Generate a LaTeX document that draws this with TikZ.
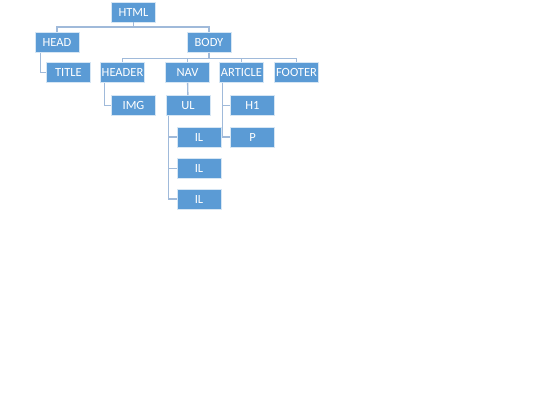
\documentclass[tikz,border=0pt]{standalone}
\usepackage{fontspec}
\setmainfont{Carlito}
\definecolor{boxblue}{RGB}{91,155,213}
\definecolor{linkblue}{RGB}{160,186,218}
\begin{document}
\begin{tikzpicture}[x=1pt,y=-1pt,
		box/.style={fill=boxblue,draw=white!75!boxblue,line width=0.6pt,
			minimum width=44pt,minimum height=20pt,inner sep=0pt,
			text=white,font=\fontsize{12.5}{13}\selectfont},
		link/.style={draw=linkblue,line width=1.4pt}]
		
		\useasboundingbox (0,0) rectangle (540,405);
		
		% top levels
		\node[box] (html)    at (133.5,12)   {HTML};
		\node[box] (head)    at (57,42.5)    {HEAD};
		\node[box] (body)    at (209,42.5)   {BODY};
		
		% third row
		\node[box] (title)   at (68.5,72.5)  {TITLE};
		\node[box] (header)  at (122.5,72.5) {HEADER};
		\node[box] (nav)     at (187.5,72.5) {NAV};
		\node[box] (article) at (241.5,72.5) {ARTICLE};
		\node[box] (footer)  at (296.5,72.5) {FOOTER};
		
		% lower rows
		\node[box] (img)     at (133.5,105.5) {IMG};
		\node[box] (ul)      at (188,105.5)   {UL};
		\node[box] (hone)    at (252.5,105.5) {H1};
		\node[box] (p)       at (252.5,137)   {P};
		\node[box] (ilone)   at (199,137)     {IL};
		\node[box] (iltwo)   at (199,168.5)   {IL};
		\node[box] (ilthree) at (199,199)     {IL};
		
		% connectors
		\draw[link] (html.south) -- ++(0,4.5) -| (head);
		\draw[link] (html.south) -- ++(0,4.5) -| (body);
		
		\draw[link] ([xshift=6pt]head.south west) |- (title);
		
		\foreach \kid in {header,nav,article,footer}
			\draw[link] (body.south) -- ++(0,5.5) -| (\kid);
		
		\draw[link] ([xshift=4pt]header.south west) |- (img);
		\draw[link] (nav) -- (ul);
		\draw[link] ([xshift=3pt]article.south west) |- (hone);
		\draw[link] ([xshift=3pt]article.south west) |- (p);
		
		\foreach \kid in {ilone,iltwo,ilthree}
			\draw[link] ([xshift=3pt]ul.south west) |- (\kid);
\end{tikzpicture}
\end{document}
